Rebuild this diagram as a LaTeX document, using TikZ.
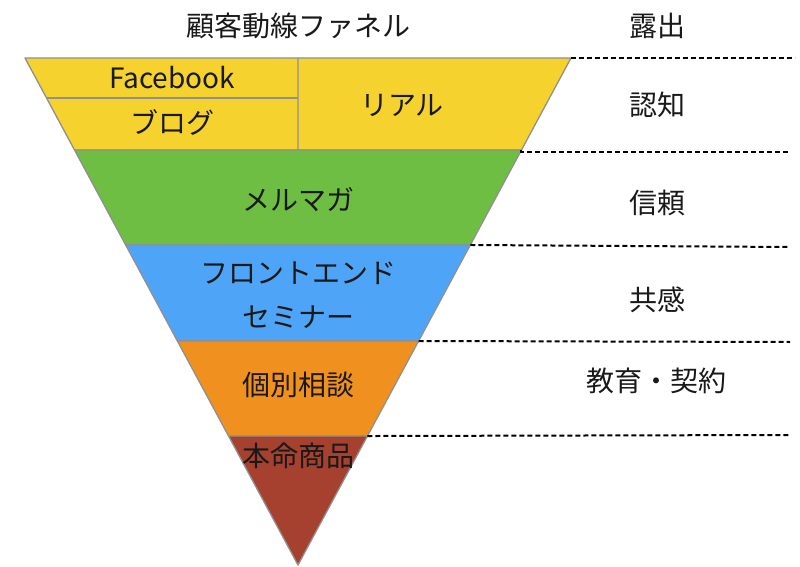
\documentclass[tikz,border=0pt]{standalone}
\usepackage{fontspec}
\setmainfont{Noto Sans CJK JP}
\usetikzlibrary{calc}
\definecolor{funnelyellow}{HTML}{F5D22D}
\definecolor{funnelgreen}{HTML}{6EBE44}
\definecolor{funnelblue}{HTML}{4EA5F7}
\definecolor{funnelorange}{HTML}{F0911F}
\definecolor{funnelbrown}{HTML}{A5412E}
\definecolor{edgegray}{HTML}{909090}

\begin{document}
\begin{tikzpicture}[x=1pt,y=-1pt]
       \tikzstyle{band} = [draw=edgegray, line width=1.3pt, line join=round];
       \tikzstyle{label} = [font=\fontsize{28}{44}\selectfont, text=black!90, inner sep=0pt];
       \tikzstyle{level} = [dash pattern=on 5pt off 3pt, line width=2pt];
       \useasboundingbox (0,0) rectangle (800,567);
       % funnel corners
       \coordinate (tl) at (25,58);
       \coordinate (tr) at (571,58);
       \coordinate (apex) at (298,565);
       % band boundaries on both edges
       \coordinate (l1) at ($(tl)!0.1815!(apex)$); \coordinate (r1) at ($(tr)!0.1815!(apex)$);
       \coordinate (l2) at ($(tl)!0.3688!(apex)$); \coordinate (r2) at ($(tr)!0.3688!(apex)$);
       \coordinate (l3) at ($(tl)!0.5582!(apex)$); \coordinate (r3) at ($(tr)!0.5582!(apex)$);
       \coordinate (l4) at ($(tl)!0.7456!(apex)$); \coordinate (r4) at ($(tr)!0.7456!(apex)$);
       % dividers of the top band
       \coordinate (midtop) at ($(tl)!0.5!(tr)$);
       \coordinate (midbot) at ($(l1)!0.5!(r1)$);
       \coordinate (lsplit) at ($(tl)!0.0789!(apex)$);
       \coordinate (csplit) at (lsplit -| midtop);

       \draw[band, fill=funnelyellow] (tl) -- (tr) -- (r1) -- (l1) -- cycle;
       \draw[band, fill=funnelgreen] (l1) -- (r1) -- (r2) -- (l2) -- cycle;
       \draw[band, fill=funnelblue] (l2) -- (r2) -- (r3) -- (l3) -- cycle;
       \draw[band, fill=funnelorange] (l3) -- (r3) -- (r4) -- (l4) -- cycle;
       \draw[band, fill=funnelbrown] (l4) -- (r4) -- (apex) -- cycle;
       \draw[band] (midtop) -- (midbot);
       \draw[band] (lsplit) -- (csplit);

       % stage lines
       \coordinate (e0) at (795,58);
       \coordinate (e1) at (790,152);
       \coordinate (e2) at (790,247);
       \coordinate (e3) at (790,342);
       \coordinate (e4) at (790,435);
       \draw[level] (tr) -- (e0);
       \draw[level] (r1) -- (e1 -| r1) -- (e1);
       \draw[level] (r2) -- (e2);
       \draw[level] (r3) -- (e3);
       \draw[level] (r4) -- (e4);

       % funnel texts
       \node[label] (title) at (298,26) {顧客動線ファネル};
       \node[label] (facebook) at (172,78) {Facebook};
       \node[label] (blog) at (172,122) {ブログ};
       \node[label] (real) at (402,105) {リアル};
       \node[label] (mailmag) at (298,200) {メルマガ};
       \node[label, align=center] (seminar) at (298,295) {フロントエンド\\セミナー};
       \node[label] (consult) at (298,385) {個別相談};
       \node[label] (product) at (298,456) {本命商品};

       % stage texts
       \node[label] (exposure) at (657,26) {露出};
       \node[label] (aware) at (657,105) {認知};
       \node[label] (trust) at (657,203) {信頼};
       \node[label] (empathy) at (657,300) {共感};
       \node[label] (contract) at (656,381) {教育・契約};
     \end{tikzpicture}
\end{document}
